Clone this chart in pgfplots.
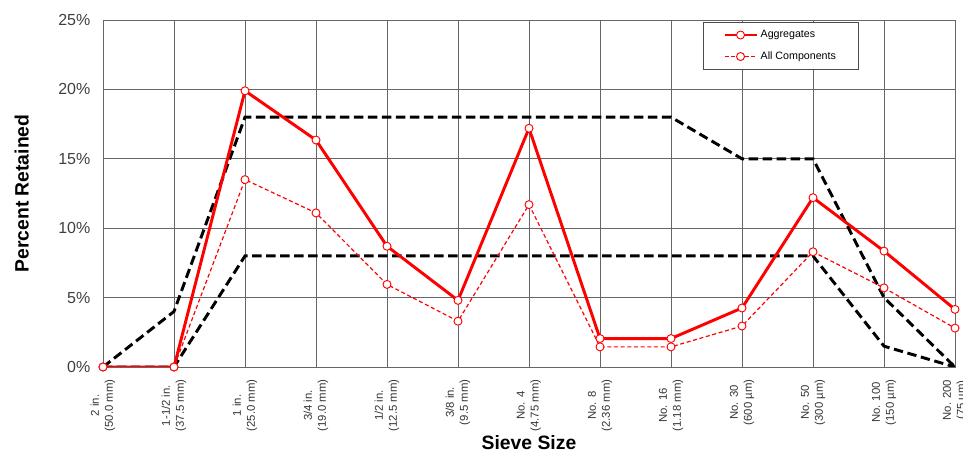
\documentclass[border=0pt]{standalone}
\usepackage{fontspec}
\setmainfont{Liberation Sans}
\usepackage{pgfplots}
\pgfplotsset{compat=1.18}

\begin{document}
\begin{tikzpicture}
\begin{axis}[
    name=ax,
    scale only axis,
    width=639pt, height=260.25pt,
    xmin=0, xmax=12,
    ymin=0, ymax=25,
    xtick={0,...,12},
    xticklabels={{2 in.\\(50.0 mm)},{1-1/2 in.\\(37.5 mm)},{1 in.\\(25.0 mm)},
        {3/4 in.\\(19.0 mm)},{1/2 in.\\(12.5 mm)},{3/8 in.\\(9.5 mm)},
        {No. 4\\(4.75 mm)},{No. 8\\(2.36 mm)},{No. 16\\(1.18 mm)},
        {No. 30\\(600 µm)},{No. 50\\(300 µm)},{No. 100\\(150 µm)},{No. 200\\(75 µm)}},
    xticklabel style={rotate=90, anchor=east, align=center,
        font=\fontsize{8.5}{10.5}\selectfont, text=black!80},
    xticklabel shift=6pt,
    ytick={0,5,...,25},
    yticklabel={\pgfmathprintnumber{\tick}\%},
    yticklabel style={font=\fontsize{12}{14}\selectfont, text=black!75},
    yticklabel shift=6pt,
    /pgf/number format/assume math mode=true,
    major tick length=0pt,
    xmajorgrids=true, ymajorgrids=true,
    grid style={black!60, line width=0.5pt},
    axis line style={black!60, line width=0.5pt},
    xlabel={\textbf{Sieve Size}},
    ylabel={\textbf{Percent Retained}},
    every axis x label/.style={at={(axis description cs:0.5,-0.219)}, anchor=center,
        font=\fontsize{14.5}{16}\selectfont},
    every axis y label/.style={at={(axis description cs:-0.0955,0.5)}, rotate=90,
        anchor=center, font=\fontsize{14.5}{16}\selectfont},
    legend style={at={(axis description cs:0.704,0.994)}, anchor=north west,
        draw=black!70, fill=white, font=\fontsize{8}{9.6}\selectfont,
        cells={anchor=west}, inner xsep=15pt, inner ysep=4pt,
        row sep=5pt},
    legend image code/.code={\draw[mark repeat=2,mark phase=2,#1]
        plot coordinates {(0pt,0pt) (12pt,0pt) (24pt,0pt)};},
]

% specification limits
\addplot[black, line width=2.2pt, dash pattern=on 7pt off 3.5pt, forget plot]
    coordinates {(0,0)(1,4)(2,18)(3,18)(4,18)(5,18)(6,18)(7,18)(8,18)(9,15)(10,15)(11,5)(12,0)};
\addplot[black, line width=2.2pt, dash pattern=on 7pt off 3.5pt, forget plot]
    coordinates {(0,0)(1,0)(2,8)(3,8)(4,8)(5,8)(6,8)(7,8)(8,8)(9,8)(10,8)(11,1.5)(12,0)};

\addplot[red, line width=2.2pt, mark=*,
    mark options={solid, fill=white, draw=red, line width=0.7pt, scale=1.5}]
    coordinates {(0,0)(1,0)(2,19.9)(3,16.35)(4,8.7)(5,4.8)(6,17.2)(7,2.05)(8,2.05)(9,4.25)(10,12.2)(11,8.35)(12,4.15)};
\addlegendentry{Aggregates}

\addplot[red, line width=0.9pt, dash pattern=on 3pt off 2pt, mark=*,
    mark options={solid, fill=white, draw=red, line width=0.7pt, scale=1.5}]
    coordinates {(0,0)(1,0)(2,13.5)(3,11.1)(4,5.95)(5,3.3)(6,11.7)(7,1.45)(8,1.45)(9,2.95)(10,8.3)(11,5.7)(12,2.8)};
\addlegendentry{All Components}

\end{axis}
\pgfresetboundingbox
\path ([xshift=-77.25pt,yshift=-66pt]ax.south west) rectangle ([xshift=6pt,yshift=15pt]ax.north east);
\end{tikzpicture}
\end{document}
